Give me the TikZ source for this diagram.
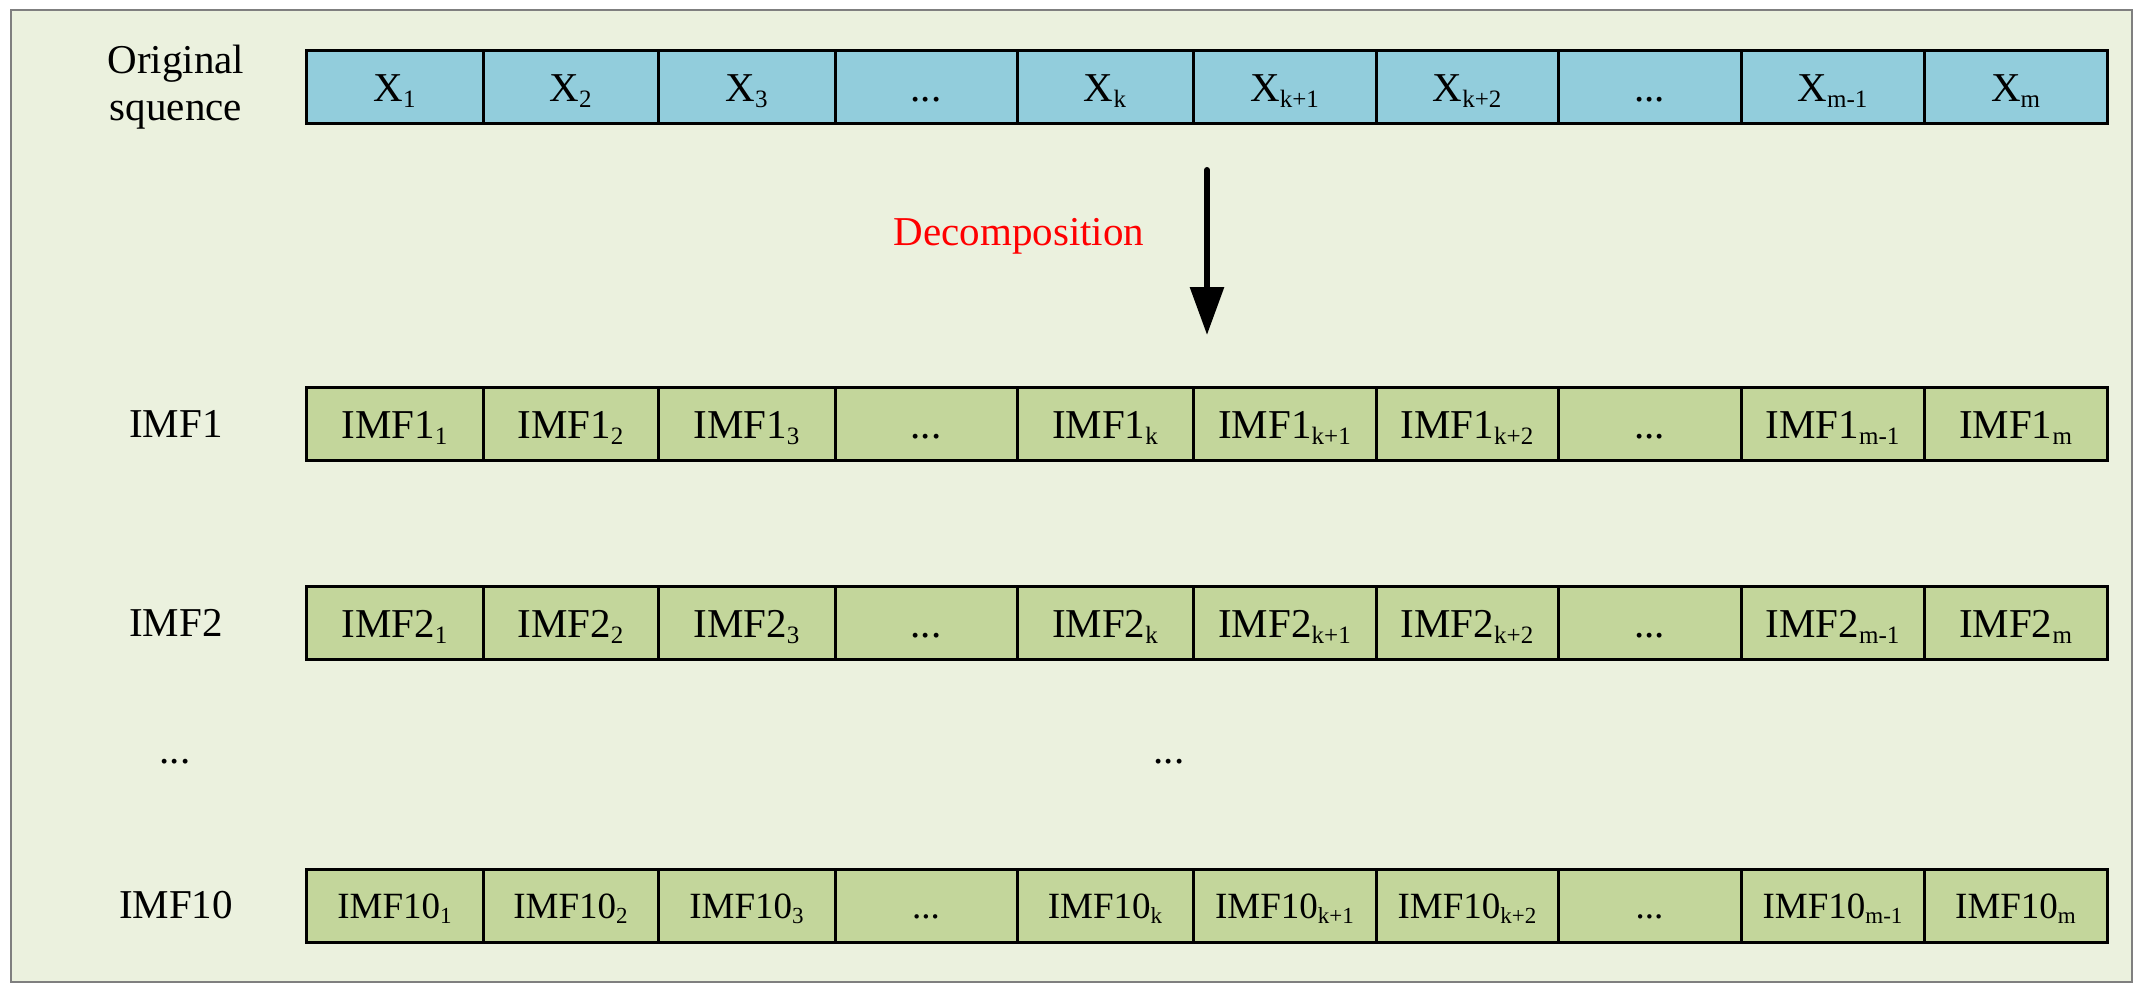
\documentclass[tikz,border=0pt]{standalone}
\usepackage{fontspec}
\setmainfont{Liberation Serif}
\usetikzlibrary{arrows.meta}
\definecolor{bgc}{HTML}{EBF1DE}
\definecolor{bluec}{HTML}{92CDDC}
\definecolor{greenc}{HTML}{C3D69B}
\definecolor{framec}{HTML}{7F7F7F}
\definecolor{redc}{HTML}{FF0000}
\newcommand{\subt}[1]{\raisebox{-6pt}{\fontsize{25}{25}\selectfont #1}}
\newcommand{\subs}[1]{\raisebox{-5pt}{\fontsize{23}{23}\selectfont #1}}
\newcommand{\dotsx}{...}
\def\bnds{{306,483,658,835,1017,1193,1376,1558,1741,1924,2107}}
\begin{document}
\begin{tikzpicture}[x=1pt,y=-1pt,
  cellbase/.style={draw=black, line width=3pt, inner sep=0pt, outer sep=0pt,
    minimum height=73pt, text height=28pt, text depth=0pt,
    font=\fontsize{41}{41}\selectfont},
  bluecell/.style={cellbase, fill=bluec},
  greencell/.style={cellbase, fill=greenc},
  smallcell/.style={greencell, text height=25pt, font=\fontsize{37}{37}\selectfont},
  rowlabel/.style={inner sep=0pt, anchor=base, font=\fontsize{41}{47}\selectfont},
  redlabel/.style={rowlabel, text=redc},
  bigarrow/.style={line width=6pt, line cap=round, draw=black,
    -{Triangle[length=48pt,width=33pt]}}
]
\useasboundingbox (0,0) rectangle (2143,992);
\fill[white] (0,0) rectangle (2143,992);
\draw[draw=framec, line width=2.5pt, fill=bgc] (11,10) rectangle (2132,982);

% original sequence row
\foreach \t [count=\i] in {X\subt{1},X\subt{2},X\subt{3},\dotsx,X\subt{k},X\subt{k+1},X\subt{k+2},\dotsx,X\subt{m-1},X\subt{m}}{
  \pgfmathsetmacro\l{\bnds[\i-1]}
  \pgfmathsetmacro\r{\bnds[\i]}
  \pgfmathsetmacro\cx{(\l+\r)/2}
  \pgfmathsetmacro\w{\r-\l}
  \node[bluecell, minimum width=\w pt] (x\i) at (\cx,87.5) {\t};
}
% IMF1 row
\foreach \t [count=\i] in {IMF1\subt{1},IMF1\subt{2},IMF1\subt{3},\dotsx,IMF1\subt{k},IMF1\subt{k+1},IMF1\subt{k+2},\dotsx,IMF1\subt{m-1},IMF1\subt{m}}{
  \pgfmathsetmacro\l{\bnds[\i-1]}
  \pgfmathsetmacro\r{\bnds[\i]}
  \pgfmathsetmacro\cx{(\l+\r)/2}
  \pgfmathsetmacro\w{\r-\l}
  \node[greencell, minimum width=\w pt] (a\i) at (\cx,424) {\t};
}
% IMF2 row
\foreach \t [count=\i] in {IMF2\subt{1},IMF2\subt{2},IMF2\subt{3},\dotsx,IMF2\subt{k},IMF2\subt{k+1},IMF2\subt{k+2},\dotsx,IMF2\subt{m-1},IMF2\subt{m}}{
  \pgfmathsetmacro\l{\bnds[\i-1]}
  \pgfmathsetmacro\r{\bnds[\i]}
  \pgfmathsetmacro\cx{(\l+\r)/2}
  \pgfmathsetmacro\w{\r-\l}
  \node[greencell, minimum width=\w pt] (b\i) at (\cx,623) {\t};
}
% IMF10 row
\foreach \t [count=\i] in {IMF10\subs{1},IMF10\subs{2},IMF10\subs{3},\dotsx,IMF10\subs{k},IMF10\subs{k+1},IMF10\subs{k+2},\dotsx,IMF10\subs{m-1},IMF10\subs{m}}{
  \pgfmathsetmacro\l{\bnds[\i-1]}
  \pgfmathsetmacro\r{\bnds[\i]}
  \pgfmathsetmacro\cx{(\l+\r)/2}
  \pgfmathsetmacro\w{\r-\l}
  \node[smallcell, minimum width=\w pt] (c\i) at (\cx,906) {\t};
}

% row labels
\node[rowlabel] (lorig) at (176,74) {Original};
\node[rowlabel] (lsq) at (176,121) {squence};
\node[rowlabel] (limf1) at (176,437) {IMF1};
\node[rowlabel] (limf2) at (176,636) {IMF2};
\node[rowlabel] (ldots) at (175,763) {...};
\node[rowlabel] (mdots) at (1169,763) {...};
\node[rowlabel] (limf10) at (176,918) {IMF10};

% decomposition arrow
\node[redlabel] (dec) at (1019,246) {Decomposition};
\coordinate (arrS) at (1207,170);
\coordinate (arrE) at (1207,335);
\draw[bigarrow] (arrS) -- (arrE);
\end{tikzpicture}
\end{document}
